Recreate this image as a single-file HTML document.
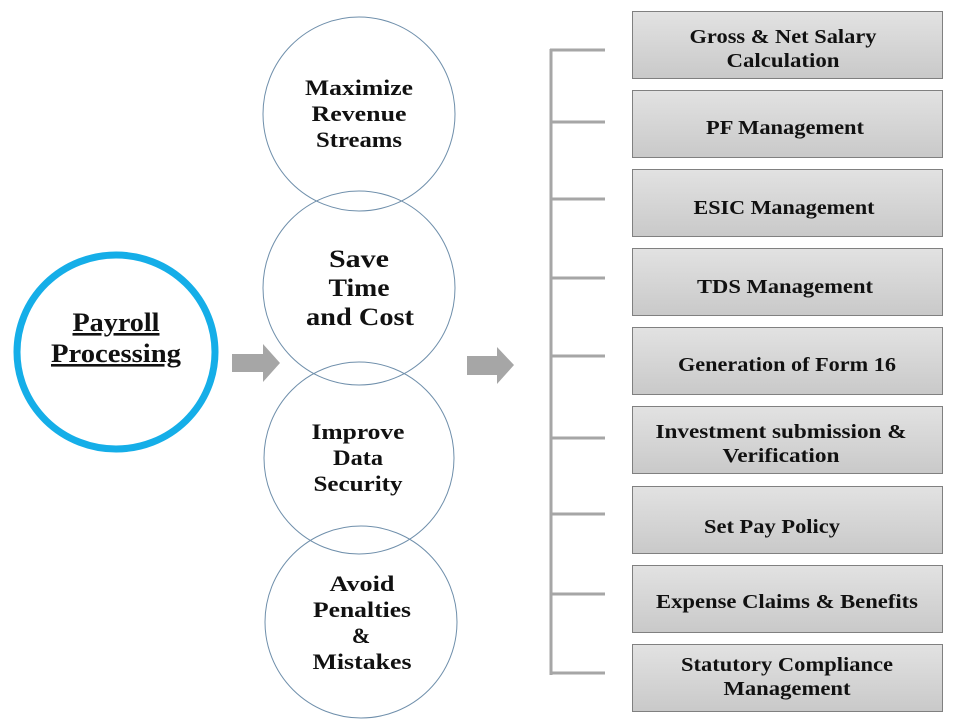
<!DOCTYPE html>
<html><head><meta charset="utf-8"><style>
html,body{margin:0;padding:0;background:#fff;}
svg{display:block;}
text{font-family:"Liberation Serif",serif;font-weight:bold;fill:#111;text-anchor:middle;}
</style></head><body>
<svg width="960" height="720" viewBox="0 0 960 720" xmlns="http://www.w3.org/2000/svg">
<defs>
<linearGradient id="g" x1="0" y1="0" x2="0" y2="1">
<stop offset="0" stop-color="#e2e2e2"/><stop offset="1" stop-color="#c9c9c9"/>
</linearGradient>
</defs>
<ellipse cx="116" cy="352" rx="99" ry="97" fill="#fff" stroke="#15aee8" stroke-width="7"/>
<text x="116" y="331" font-size="26" text-decoration="underline" textLength="87" lengthAdjust="spacingAndGlyphs">Payroll</text>
<text x="116" y="362" font-size="26" text-decoration="underline" textLength="130" lengthAdjust="spacingAndGlyphs">Processing</text>
<polygon points="232,354 263,354 263,344 280,363 263,382 263,372 232,372" fill="#a6a6a6"/>
<polygon points="467,356 497,356 497,347 514,365 497,384 497,375 467,375" fill="#a6a6a6"/>
<g fill="none" stroke="#6f8fab" stroke-width="1">
<ellipse cx="359" cy="114" rx="96" ry="97"/>
<ellipse cx="359" cy="288" rx="96" ry="97"/>
<ellipse cx="359" cy="458" rx="95" ry="96"/>
<ellipse cx="361" cy="622" rx="96" ry="96"/>
</g>
<g font-size="22" lengthAdjust="spacingAndGlyphs">
<text x="359" y="95" textLength="108" lengthAdjust="spacingAndGlyphs">Maximize</text>
<text x="359" y="121" textLength="95" lengthAdjust="spacingAndGlyphs">Revenue</text>
<text x="359" y="147" textLength="86" lengthAdjust="spacingAndGlyphs">Streams</text>
</g>
<g font-size="25">
<text x="359" y="267" textLength="60" lengthAdjust="spacingAndGlyphs">Save</text>
<text x="359" y="296" textLength="61" lengthAdjust="spacingAndGlyphs">Time</text>
<text x="360" y="325" textLength="108" lengthAdjust="spacingAndGlyphs">and Cost</text>
</g>
<g font-size="22">
<text x="358" y="439" textLength="93" lengthAdjust="spacingAndGlyphs">Improve</text>
<text x="358" y="465" textLength="50" lengthAdjust="spacingAndGlyphs">Data</text>
<text x="358" y="491" textLength="89" lengthAdjust="spacingAndGlyphs">Security</text>
<text x="362" y="591" textLength="65" lengthAdjust="spacingAndGlyphs">Avoid</text>
<text x="362" y="617" textLength="98" lengthAdjust="spacingAndGlyphs">Penalties</text>
<text x="361" y="643">&amp;</text>
<text x="362" y="669" textLength="99" lengthAdjust="spacingAndGlyphs">Mistakes</text>
</g>
<g stroke="#a6a6a6" stroke-width="3">
<line x1="551" y1="49" x2="551" y2="675"/>
<line x1="550" y1="50" x2="605" y2="50"/>
<line x1="550" y1="122" x2="605" y2="122"/>
<line x1="550" y1="199" x2="605" y2="199"/>
<line x1="550" y1="278" x2="605" y2="278"/>
<line x1="550" y1="356" x2="605" y2="356"/>
<line x1="550" y1="438" x2="605" y2="438"/>
<line x1="550" y1="514" x2="605" y2="514"/>
<line x1="550" y1="594" x2="605" y2="594"/>
<line x1="550" y1="673" x2="605" y2="673"/>
</g>
<g fill="url(#g)" stroke="#808080" stroke-width="1">
<rect x="632.5" y="11.5" width="310" height="67"/>
<rect x="632.5" y="90.5" width="310" height="67"/>
<rect x="632.5" y="169.5" width="310" height="67"/>
<rect x="632.5" y="248.5" width="310" height="67"/>
<rect x="632.5" y="327.5" width="310" height="67"/>
<rect x="632.5" y="406.5" width="310" height="67"/>
<rect x="632.5" y="486.5" width="310" height="67"/>
<rect x="632.5" y="565.5" width="310" height="67"/>
<rect x="632.5" y="644.5" width="310" height="67"/>
</g>
<g font-size="20">
<text x="783" y="43" textLength="187" lengthAdjust="spacingAndGlyphs">Gross &amp; Net Salary</text>
<text x="783" y="67" textLength="113" lengthAdjust="spacingAndGlyphs">Calculation</text>
<text x="785" y="134" textLength="158" lengthAdjust="spacingAndGlyphs">PF Management</text>
<text x="784" y="214" textLength="181" lengthAdjust="spacingAndGlyphs">ESIC Management</text>
<text x="785" y="293" textLength="176" lengthAdjust="spacingAndGlyphs">TDS Management</text>
<text x="787" y="371" textLength="218" lengthAdjust="spacingAndGlyphs">Generation of Form 16</text>
<text x="781" y="438" textLength="251" lengthAdjust="spacingAndGlyphs">Investment submission &amp;</text>
<text x="781" y="462" textLength="117" lengthAdjust="spacingAndGlyphs">Verification</text>
<text x="772" y="533" textLength="136" lengthAdjust="spacingAndGlyphs">Set Pay Policy</text>
<text x="787" y="608" textLength="262" lengthAdjust="spacingAndGlyphs">Expense Claims &amp; Benefits</text>
<text x="787" y="671" textLength="212" lengthAdjust="spacingAndGlyphs">Statutory Compliance</text>
<text x="787" y="695" textLength="127" lengthAdjust="spacingAndGlyphs">Management</text>
</g>
</svg>
</body></html>
